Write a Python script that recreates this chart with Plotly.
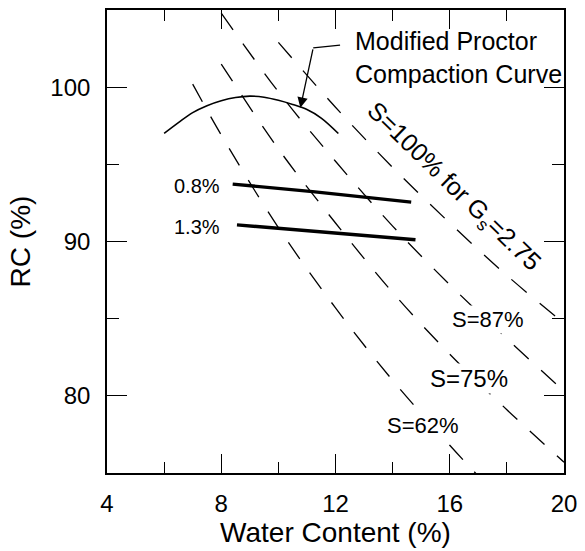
import plotly.graph_objects as go

# ---- data ----
curve_x = [6.0, 6.5, 7.0, 7.5, 8.0, 8.5, 9.0, 9.5, 10.0, 10.5, 11.0, 11.5, 12.1]
curve_y = [97.0, 97.7, 98.35, 98.8, 99.12, 99.33, 99.42, 99.35, 99.15, 98.88, 98.55, 98.0, 97.0]

ac08_x = [8.4, 11.2, 14.65]
ac08_y = [93.72, 93.23, 92.55]
ac13_x = [8.55, 11.74, 14.8]
ac13_y = [91.08, 90.6, 90.11]

s100_x = [10, 12, 14, 16, 18, 20]
s100_y = [102.9, 98.7, 94.8, 91.2, 87.8, 84.7]
s87_x = [8, 10, 12, 14, 16, 18, 20]
s87_y = [104.8, 99.7, 95.2, 91.0, 87.2, 83.7, 80.3]
s75_x = [8, 10, 12, 14, 16, 18, 20]
s75_y = [101.5, 96.0, 91.2, 86.7, 82.7, 79.1, 75.7]
s62_x = [7, 8, 10, 12, 14, 16, 17]
s62_y = [100.2, 96.9, 90.9, 85.7, 81.0, 76.8, 74.8]

x_ticks = [4, 8, 12, 16, 20]
y_ticks = [80, 90, 100]

FONT = "Liberation Sans, Arial, sans-serif"
DASH = "20px,17px"

fig = go.Figure()
for xs, ys in [(s100_x, s100_y), (s87_x, s87_y), (s75_x, s75_y), (s62_x, s62_y)]:
    fig.add_trace(go.Scatter(x=xs, y=ys, mode="lines", line_shape="spline",
                             line=dict(color="black", width=1.3, dash=DASH),
                             hoverinfo="skip", showlegend=False))
fig.add_trace(go.Scatter(x=curve_x, y=curve_y, mode="lines", line_shape="spline",
                         line=dict(color="black", width=1.6), showlegend=False))
for xs, ys in [(ac08_x, ac08_y), (ac13_x, ac13_y)]:
    fig.add_trace(go.Scatter(x=xs, y=ys, mode="lines",
                             line=dict(color="black", width=3.4), showlegend=False))

ann = []
ann.append(dict(x=12.61, y=101.9, text="Modified Proctor<br>Compaction Curve", showarrow=False,
                xanchor="left", yanchor="middle", align="left", font=dict(size=25)))
ann.append(dict(x=10.77, y=98.66, ax=11.22, ay=102.55, axref="x", ayref="y", text="",
                showarrow=True, arrowhead=2, arrowsize=1.6, arrowwidth=1.3, arrowcolor="black",
                standoff=0))
ann.append(dict(x=8.03, y=93.57, text="0.8%", showarrow=False, xanchor="right", font=dict(size=20)))
ann.append(dict(x=8.03, y=90.97, text="1.3%", showarrow=False, xanchor="right", font=dict(size=20)))
ann.append(dict(x=17.35, y=84.95, text="S=87%", showarrow=False, bgcolor="white", font=dict(size=22)))
ann.append(dict(x=16.66, y=81.15, text="S=75%", showarrow=False, bgcolor="white", font=dict(size=24)))
ann.append(dict(x=15.06, y=78.1, text="S=62%", showarrow=False, bgcolor="white", font=dict(size=22)))
ann.append(dict(x=16.1, y=93.5, text="S=100% for G<sub>s</sub>=2.75", showarrow=False,
                textangle=44, font=dict(size=25)))

fig.update_layout(
    width=585, height=551,
    margin=dict(l=107, r=16, t=8, b=78),
    paper_bgcolor="white", plot_bgcolor="white",
    font=dict(family=FONT, color="black"),
    annotations=ann,
    shapes=[dict(type="line", xref="x", yref="y", x0=11.22, y0=102.55, x1=12.16, y1=102.73,
                 line=dict(color="black", width=1.3))],
    showlegend=False,
)
fig.update_xaxes(range=[4, 20], tickvals=x_ticks, ticks="inside", ticklen=19, tickwidth=1.3,
                 tickcolor="black", showline=True, linecolor="black", linewidth=1.6, mirror="ticks",
                 showgrid=False, zeroline=False, tickfont=dict(size=24),
                 minor=dict(dtick=2, tick0=0, ticks="inside", ticklen=11, tickwidth=1.3, tickcolor="black", showgrid=False),
                 title=dict(text="Water Content (%)", font=dict(size=28), standoff=3),
                 ticklabelstandoff=8)
fig.update_yaxes(range=[75, 105], tickvals=y_ticks, ticks="inside", ticklen=20, tickwidth=1.3,
                 tickcolor="black", showline=True, linecolor="black", linewidth=1.6, mirror="ticks",
                 showgrid=False, zeroline=False, tickfont=dict(size=24),
                 minor=dict(dtick=5, tick0=0, ticks="inside", ticklen=12, tickwidth=1.3, tickcolor="black", showgrid=False),
                 title=dict(text="RC (%)", font=dict(size=28), standoff=12),
                 ticklabelstandoff=10)

fig.write_html("out.html")
